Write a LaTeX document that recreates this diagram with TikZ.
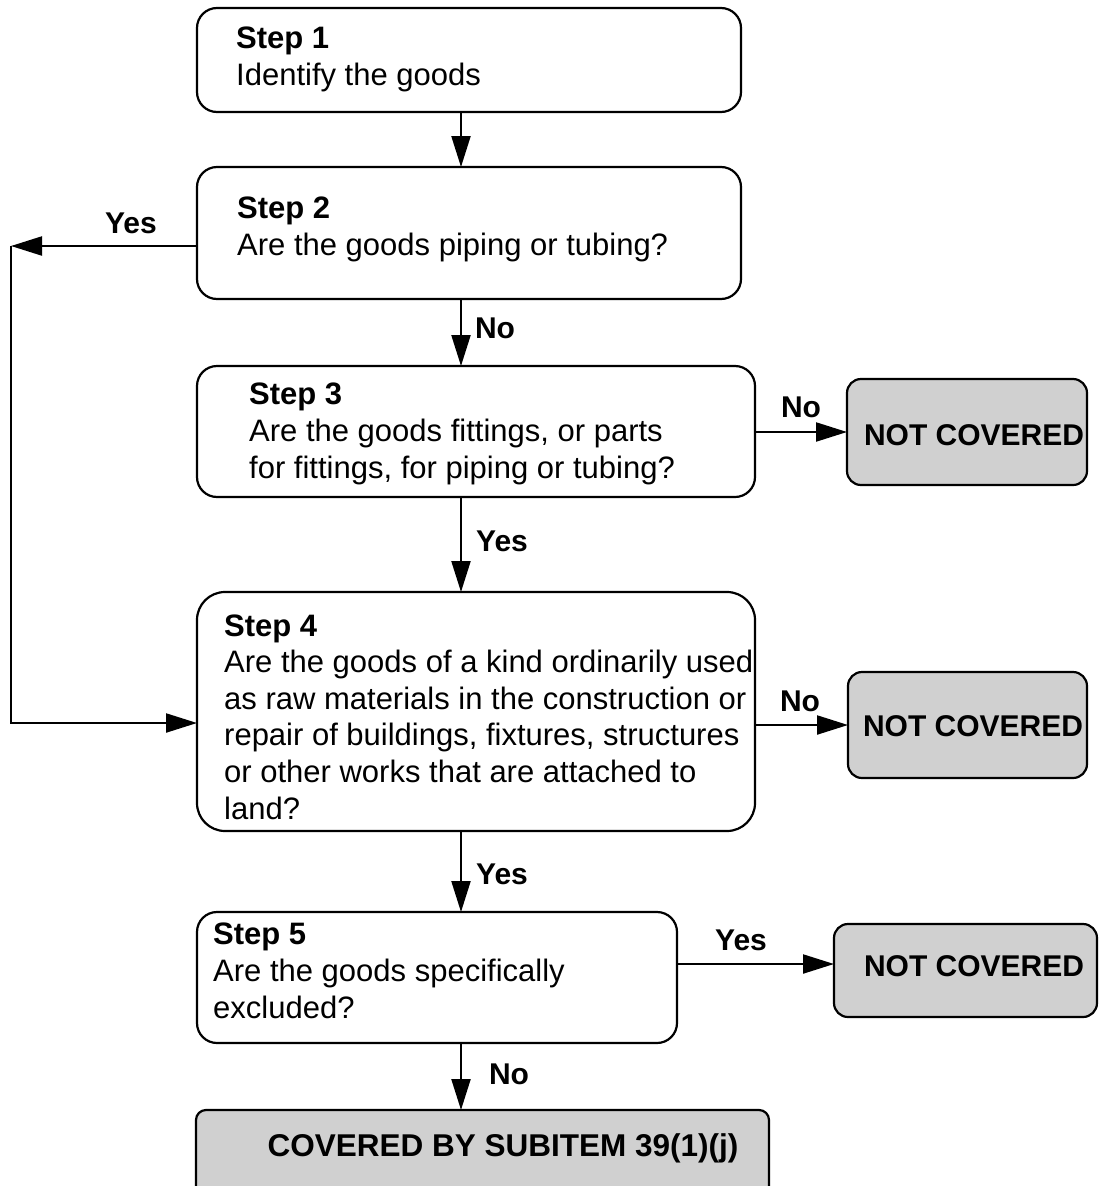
\documentclass[tikz,border=0pt]{standalone}
\usepackage{fontspec}
\setmainfont{Liberation Sans}
\usetikzlibrary{arrows.meta}
\definecolor{boxgrey}{RGB}{208,208,208}
\begin{document}
\begin{tikzpicture}[x=1pt,y=-1pt,
  stepbox/.style={draw,line width=2.2pt,rounded corners=20pt,inner sep=0pt,outer sep=0pt,anchor=north west},
  endbox/.style={stepbox,fill=boxgrey,rounded corners=14pt},
  body/.style={anchor=base west,align=left,inner sep=0pt,font=\fontsize{31}{36.6}\selectfont},
  lbl/.style={anchor=base,inner sep=0pt,font=\fontsize{30}{36}\selectfont\bfseries},
  endtxt/.style={anchor=base,inner sep=0pt,font=\fontsize{30}{36}\selectfont\bfseries},
  arr/.style={line width=2.2pt,-{Triangle[length=31pt,width=19pt]}}]
\useasboundingbox (0,0) rectangle (1098,1186);

% boxes
\node[stepbox,minimum width=544pt,minimum height=104pt] (s1) at (197,8) {};
\node[stepbox,minimum width=544pt,minimum height=132pt] (s2) at (197,167) {};
\node[stepbox,minimum width=558pt,minimum height=131pt] (s3) at (197,366) {};
\node[stepbox,minimum width=558pt,minimum height=239pt,rounded corners=28pt] (s4) at (197,592) {};
\node[stepbox,minimum width=480pt,minimum height=131pt] (s5) at (197,912) {};
\node[endbox,minimum width=240pt,minimum height=106pt] (nc1) at (847,379) {};
\node[endbox,minimum width=239pt,minimum height=106pt] (nc2) at (848,672) {};
\node[endbox,minimum width=263pt,minimum height=93pt] (nc3) at (834,924) {};
\node[endbox,minimum width=573pt,minimum height=92pt,rounded corners=10pt] (cov) at (196,1110) {};

% box texts (anchor = baseline of the last line)
\node[body] (t1) at (236,85) {\textbf{Step 1}\\Identify the goods};
\node[body] (t2) at (237,255) {\textbf{Step 2}\\Are the goods piping or tubing?};
\node[body] (t3) at (249,478) {\textbf{Step 3}\\Are the goods fittings, or parts\\for fittings, for piping or tubing?};
\node[body] (t4) at (224,819) {\textbf{Step 4}\\Are the goods of a kind ordinarily used\\as raw materials in the construction or\\repair of buildings, fixtures, structures\\or other works that are attached to\\land?};
\node[body] (t5) at (213,1018) {\textbf{Step 5}\\Are the goods specifically\\excluded?};
\node[endtxt] (e1) at (974,445) {NOT COVERED};
\node[endtxt] (e2) at (973,736) {NOT COVERED};
\node[endtxt] (e3) at (974,976) {NOT COVERED};
\node[endtxt,font=\fontsize{31.5}{36}\selectfont\bfseries] (e4) at (503,1156) {COVERED BY SUBITEM 39(1)(j)};

% connectors
\coordinate (mx) at (461,0);
\draw[arr] (s1.south -| mx) -- (s2.north -| mx);
\draw[arr] (s2.south -| mx) -- (s3.north -| mx);
\draw[arr] (s3.south -| mx) -- (s4.north -| mx);
\draw[arr] (s4.south -| mx) -- (s5.north -| mx);
\draw[arr] (s5.south -| mx) -- (cov.north -| mx);

\coordinate (lt) at (11,246);
\coordinate (lb) at (11,723);
\draw[arr] (s2.west |- lt) -- (lt);
\draw[arr] (lt) -- (lb) -- (s4.west |- lb);

\draw[arr] (s3.east |- nc1.west) -- (nc1.west);
\draw[arr] (s4.east |- nc2.west) -- (nc2.west);
\coordinate (r5) at (0,964);
\draw[arr] (s5.east |- r5) -- (nc3.west |- r5);

% labels
\node[lbl] (l2) at (131,233) {Yes};
\node[lbl] (l3) at (495,338) {No};
\node[lbl] (l3r) at (801,417) {No};
\node[lbl] (l4) at (502,551) {Yes};
\node[lbl] (l4r) at (800,711) {No};
\node[lbl] (l5) at (502,884) {Yes};
\node[lbl] (l5r) at (741,950) {Yes};
\node[lbl] (l6) at (509,1084) {No};
\end{tikzpicture}
\end{document}
